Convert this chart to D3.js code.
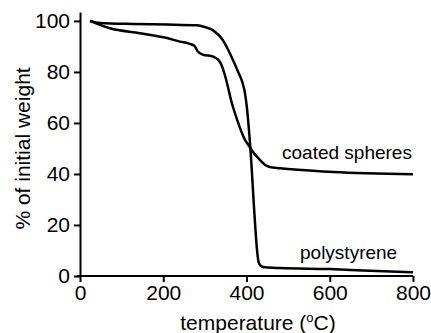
<!DOCTYPE html>
<html>
<head>
<meta charset="utf-8">
<script src="https://cdnjs.cloudflare.com/ajax/libs/d3/7.8.5/d3.min.js"></script>
<style>
  body { margin: 0; background: #fff; }
  svg { display: block; font-family: "Liberation Sans", Arial, sans-serif; }
</style>
</head>
<body>
<div class="tga-chart"></div>
<script>
// temperature (C) and % of initial weight
var coatedTemp = [24, 72, 144, 209, 240, 264, 275, 283, 295, 320, 336, 348, 356, 362, 377, 396, 404, 413, 432, 445, 456, 480, 608, 800];
var coatedWeight = [100, 97.1, 95.2, 93.3, 91.9, 91.0, 90.2, 88.0, 86.8, 86.0, 84.0, 78.8, 73.7, 69.5, 61.5, 53.5, 51.5, 49.2, 45.5, 43.5, 42.7, 42.2, 40.8, 39.9];

var psTemp = [24, 48, 127, 209, 281, 300, 320, 343, 355, 368, 380, 390, 396, 401, 405, 408, 411, 414, 418, 422, 426, 430, 436, 445, 480, 600, 680, 800];
var psWeight = [100, 99.2, 98.8, 98.6, 98.3, 97.6, 96.3, 92.5, 89.0, 84.5, 80.0, 76.0, 72.0, 66.0, 59.0, 53.0, 46.0, 38.0, 27.0, 17.0, 9.0, 5.0, 3.8, 3.4, 3.1, 2.7, 2.2, 1.5];

var xTicks = [0, 200, 400, 600, 800];
var yTicks = [0, 20, 40, 60, 80, 100];

//Width and height
var w = 431;
var h = 333;

var x = d3.scaleLinear().domain([0, 800]).range([80, 413]);
var y = d3.scaleLinear().domain([0, 103.5]).range([276, 12]);

var svg = d3.select(".tga-chart")
            .append("svg")
            .attr("width", w)
            .attr("height", h);

//Axes
var xAxis = d3.axisBottom(x).tickValues(xTicks).tickSize(6).tickPadding(3).tickSizeOuter(0);
var yAxis = d3.axisLeft(y).tickValues(yTicks).tickSize(6).tickPadding(4).tickSizeOuter(0);

var gx = svg.append("g")
            .attr("transform", "translate(0," + y(0) + ")")
            .call(xAxis);

var gy = svg.append("g")
            .attr("transform", "translate(" + x(0) + ",0)")
            .call(yAxis);

[gx, gy].forEach(function(g) {
  g.select(".domain").attr("stroke", "#000").attr("stroke-width", 2);
  g.selectAll(".tick line").attr("stroke", "#000").attr("stroke-width", 2);
  g.selectAll(".tick text")
   .attr("fill", "#000")
   .style("font-size", "21px")
   .style("font-family", "'Liberation Sans', Arial, sans-serif");
});

// extend x axis a bit to the left under the y axis
gx.select(".domain").attr("d", "M" + (x(0) - 3) + ",0H" + x(800));

//Curves
var line = d3.line()
             .x(function(d) { return x(d[0]); })
             .y(function(d) { return y(d[1]); })
             .curve(d3.curveMonotoneX);

var coated = coatedTemp.map(function(t, i) { return [t, coatedWeight[i]]; });
var ps = psTemp.map(function(t, i) { return [t, psWeight[i]]; });

[coated, ps].forEach(function(series) {
  svg.append("path")
     .datum(series)
     .attr("d", line)
     .attr("fill", "none")
     .attr("stroke", "#000")
     .attr("stroke-width", 2.5)
     .attr("stroke-linejoin", "round");
});

//Series labels
svg.append("text")
   .attr("x", 282)
   .attr("y", 159)
   .style("font-size", "19px")
   .text("coated spheres");

svg.append("text")
   .attr("x", 300)
   .attr("y", 259)
   .style("font-size", "19px")
   .text("polystyrene");

//Axis titles
var xt = svg.append("text")
            .attr("x", 258)
            .attr("y", 330)
            .attr("text-anchor", "middle")
            .style("font-size", "21px");
xt.append("tspan").text("temperature (");
xt.append("tspan").attr("dy", -8).style("font-size", "13px").text("o");
xt.append("tspan").attr("dy", 8).text("C)");

svg.append("text")
   .attr("transform", "translate(30," + ((y(0) + y(100)) / 2) + ") rotate(-90)")
   .attr("text-anchor", "middle")
   .style("font-size", "21px")
   .text("% of initial weight");
</script>
</body>
</html>
